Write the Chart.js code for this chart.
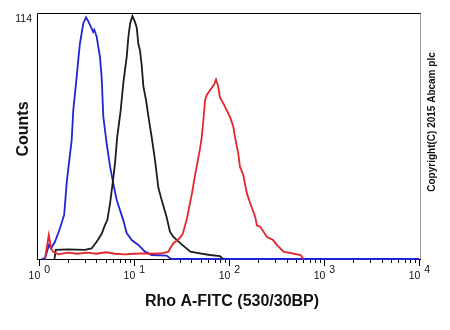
<!DOCTYPE html>
<html>
<head>
<meta charset="utf-8">
<script src="https://cdn.jsdelivr.net/npm/chart.js@4"></script>
<style>
  html, body { margin: 0; padding: 0; background: #fff; }
  #grafico { display: block; }
</style>
</head>
<body>
<canvas id="grafico" width="450" height="330"></canvas>
<script>
// eixo x em décadas (log10 da intensidade), eixo y em contagens
const decadas = [0, 1, 2, 3, 4];
const marcaY = [114];
const tituloX = "Rho A-FITC (530/30BP)";
const tituloY = "Counts";
const copyright = "Copyright(C) 2015 Abcam plc";

// AZUL
const azulX = [0.025, 0.06, 0.102, 0.123, 0.165, 0.218, 0.262, 0.29, 0.341, 0.358, 0.376, 0.394, 0.41, 0.428, 0.463, 0.492, 0.516, 0.552, 0.568, 0.579, 0.604, 0.639, 0.657, 0.674, 0.709, 0.745, 0.779, 0.815, 0.849, 0.884, 0.92, 0.973, 1.042, 1.113, 1.183, 1.341, 1.377, 1.394, 4.0];
const azulY = [0, 0.3, 6.7, 5, 8.2, 14.6, 21, 37, 56.5, 70.8, 78.8, 86.7, 94.6, 102.5, 112, 115, 113, 109.6, 108, 109, 105.7, 96, 86, 67.6, 55, 43.9, 36, 28, 23.3, 18.5, 12.3, 9, 6.7, 3.5, 1.9, 1.6, 0.3, 0, 0];

// PRETO
const pretoX = [0.16, 0.173, 0.305, 0.48, 0.55, 0.604, 0.657, 0.69, 0.716, 0.745, 0.772, 0.797, 0.82, 0.857, 0.884, 0.902, 0.92, 0.938, 0.956, 0.98, 1.005, 1.026, 1.042, 1.061, 1.078, 1.096, 1.124, 1.148, 1.183, 1.218, 1.253, 1.288, 1.34, 1.375, 1.41, 1.46, 1.486, 1.59, 1.69, 1.797, 1.9, 1.937];
const pretoY = [0, 4.3, 4.6, 4.3, 5, 8.2, 12, 16, 18.5, 26.5, 36, 45.5, 58, 70.8, 83.5, 89.8, 96, 105.7, 112, 115.5, 113, 110, 102.5, 99, 92, 82, 75.5, 68, 58, 47, 34, 28, 20, 13, 10.6, 8.5, 7.4, 3.5, 2.7, 1.9, 1.4, 0];

// VERMELHO
const vermelhoX = [0.06, 0.1, 0.125, 0.145, 0.2, 0.3, 0.4, 0.5, 0.6, 0.7, 0.8, 0.9, 1.0, 1.1, 1.2, 1.3, 1.36, 1.376, 1.41, 1.48, 1.51, 1.553, 1.606, 1.64, 1.663, 1.69, 1.71, 1.727, 1.745, 1.763, 1.797, 1.825, 1.84, 1.86, 1.884, 1.9, 1.937, 1.972, 2.007, 2.042, 2.06, 2.095, 2.112, 2.147, 2.185, 2.22, 2.273, 2.29, 2.326, 2.394, 2.46, 2.5, 2.57, 2.75, 2.78];
const vermelhoY = [0, 11.4, 5, 3.5, 2.2, 3, 2.5, 3, 2.5, 3.2, 2.5, 2.2, 2.5, 2.7, 2.5, 2.8, 3.5, 5, 7.4, 10, 12, 19, 31, 40, 45.5, 52, 58, 66, 75.5, 78, 80.3, 82, 83, 85.4, 82, 77, 74, 70.8, 67.6, 63, 58, 50, 43.9, 40, 31.2, 26.5, 20, 16, 15.4, 10.6, 9, 6.7, 3.5, 1.9, 0];

function pontos(xs, ys) {
    return xs.map((x, i) => ({ x: x, y: ys[i] }));
}

// MOLDURA, MARCAS E TEXTOS
const moldura = {
    id: "moldura",
    beforeDatasetsDraw(chart) {
        const c = chart.ctx;
        const a = chart.chartArea;
        const sx = chart.scales.x;
        c.save();
        c.lineWidth = 1;
        c.strokeStyle = "#9a9a9a";
        c.beginPath();
        c.moveTo(a.right + 0.5, a.top);
        c.lineTo(a.right + 0.5, a.bottom);
        c.stroke();
        c.strokeStyle = "#000";
        c.beginPath();
        c.moveTo(a.left + 0.5, a.bottom);
        c.lineTo(a.left + 0.5, a.top + 0.5);
        c.lineTo(a.right + 0.5, a.top + 0.5);
        c.moveTo(a.left, a.bottom + 0.5);
        c.lineTo(a.right + 1, a.bottom + 0.5);
        c.stroke();
        // marcas do eixo x
        c.beginPath();
        decadas.forEach((d, i) => {
            const px = Math.round(sx.getPixelForValue(d)) + 0.5;
            c.moveTo(px, a.bottom);
            c.lineTo(px, a.bottom + 7);
            if (i < decadas.length - 1) {
                for (let k = 2; k <= 9; k++) {
                    const pm = Math.round(sx.getPixelForValue(d + Math.log10(k))) + 0.5;
                    c.moveTo(pm, a.bottom);
                    c.lineTo(pm, a.bottom + 4);
                }
            }
        });
        c.stroke();
        c.restore();
    },
    afterDraw(chart) {
        const c = chart.ctx;
        const sx = chart.scales.x;
        const sy = chart.scales.y;
        c.save();
        c.fillStyle = "#111";
        c.font = "10.5px 'Liberation Sans', Arial, sans-serif";
        c.textBaseline = "alphabetic";
        decadas.forEach(d => {
            const px = sx.getPixelForValue(d);
            c.textAlign = "right";
            c.fillText("10", px + 1, 279);
            c.textAlign = "left";
            c.fillText(String(d), px + 5, 273);
        });
        c.textAlign = "right";
        c.textBaseline = "middle";
        marcaY.forEach(v => {
            c.fillText(String(v), 32, sy.getPixelForValue(v));
        });
        // títulos
        c.font = "bold 16px 'Liberation Sans', Arial, sans-serif";
        c.textAlign = "center";
        c.fillText(tituloX, 232, 302);
        c.save();
        c.translate(24, 129);
        c.rotate(-Math.PI / 2);
        c.fillText(tituloY, 0, 0);
        c.restore();
        c.font = "bold 10px 'Liberation Sans', Arial, sans-serif";
        c.save();
        c.translate(432, 122);
        c.rotate(-Math.PI / 2);
        c.fillText(copyright, 0, 0);
        c.restore();
        c.restore();
    }
};

const ctx = document.getElementById("grafico").getContext("2d");

const linha = (label, cor, dados) => ({
    label: label,
    data: dados,
    borderColor: cor,
    borderWidth: 1.8,
    pointRadius: 0,
    fill: false,
    tension: 0,
    clip: false
});

new Chart(ctx, {
    type: "line",
    data: {
        datasets: [
            linha("Vermelho", "#e3262b", pontos(vermelhoX, vermelhoY)),
            linha("Preto", "#1c1c1c", pontos(pretoX, pretoY)),
            linha("Azul", "#2323d8", pontos(azulX, azulY))
        ]
    },
    options: {
        responsive: false,
        animation: false,
        layout: { padding: { left: 37, right: 30, top: 13, bottom: 71 } },
        plugins: { legend: { display: false }, tooltip: { enabled: false } },
        scales: {
            x: { type: "linear", min: -0.024, max: 4.007, display: false },
            y: { type: "linear", min: 0, max: 117, display: false }
        }
    },
    plugins: [moldura]
});
</script>
</body>
</html>
